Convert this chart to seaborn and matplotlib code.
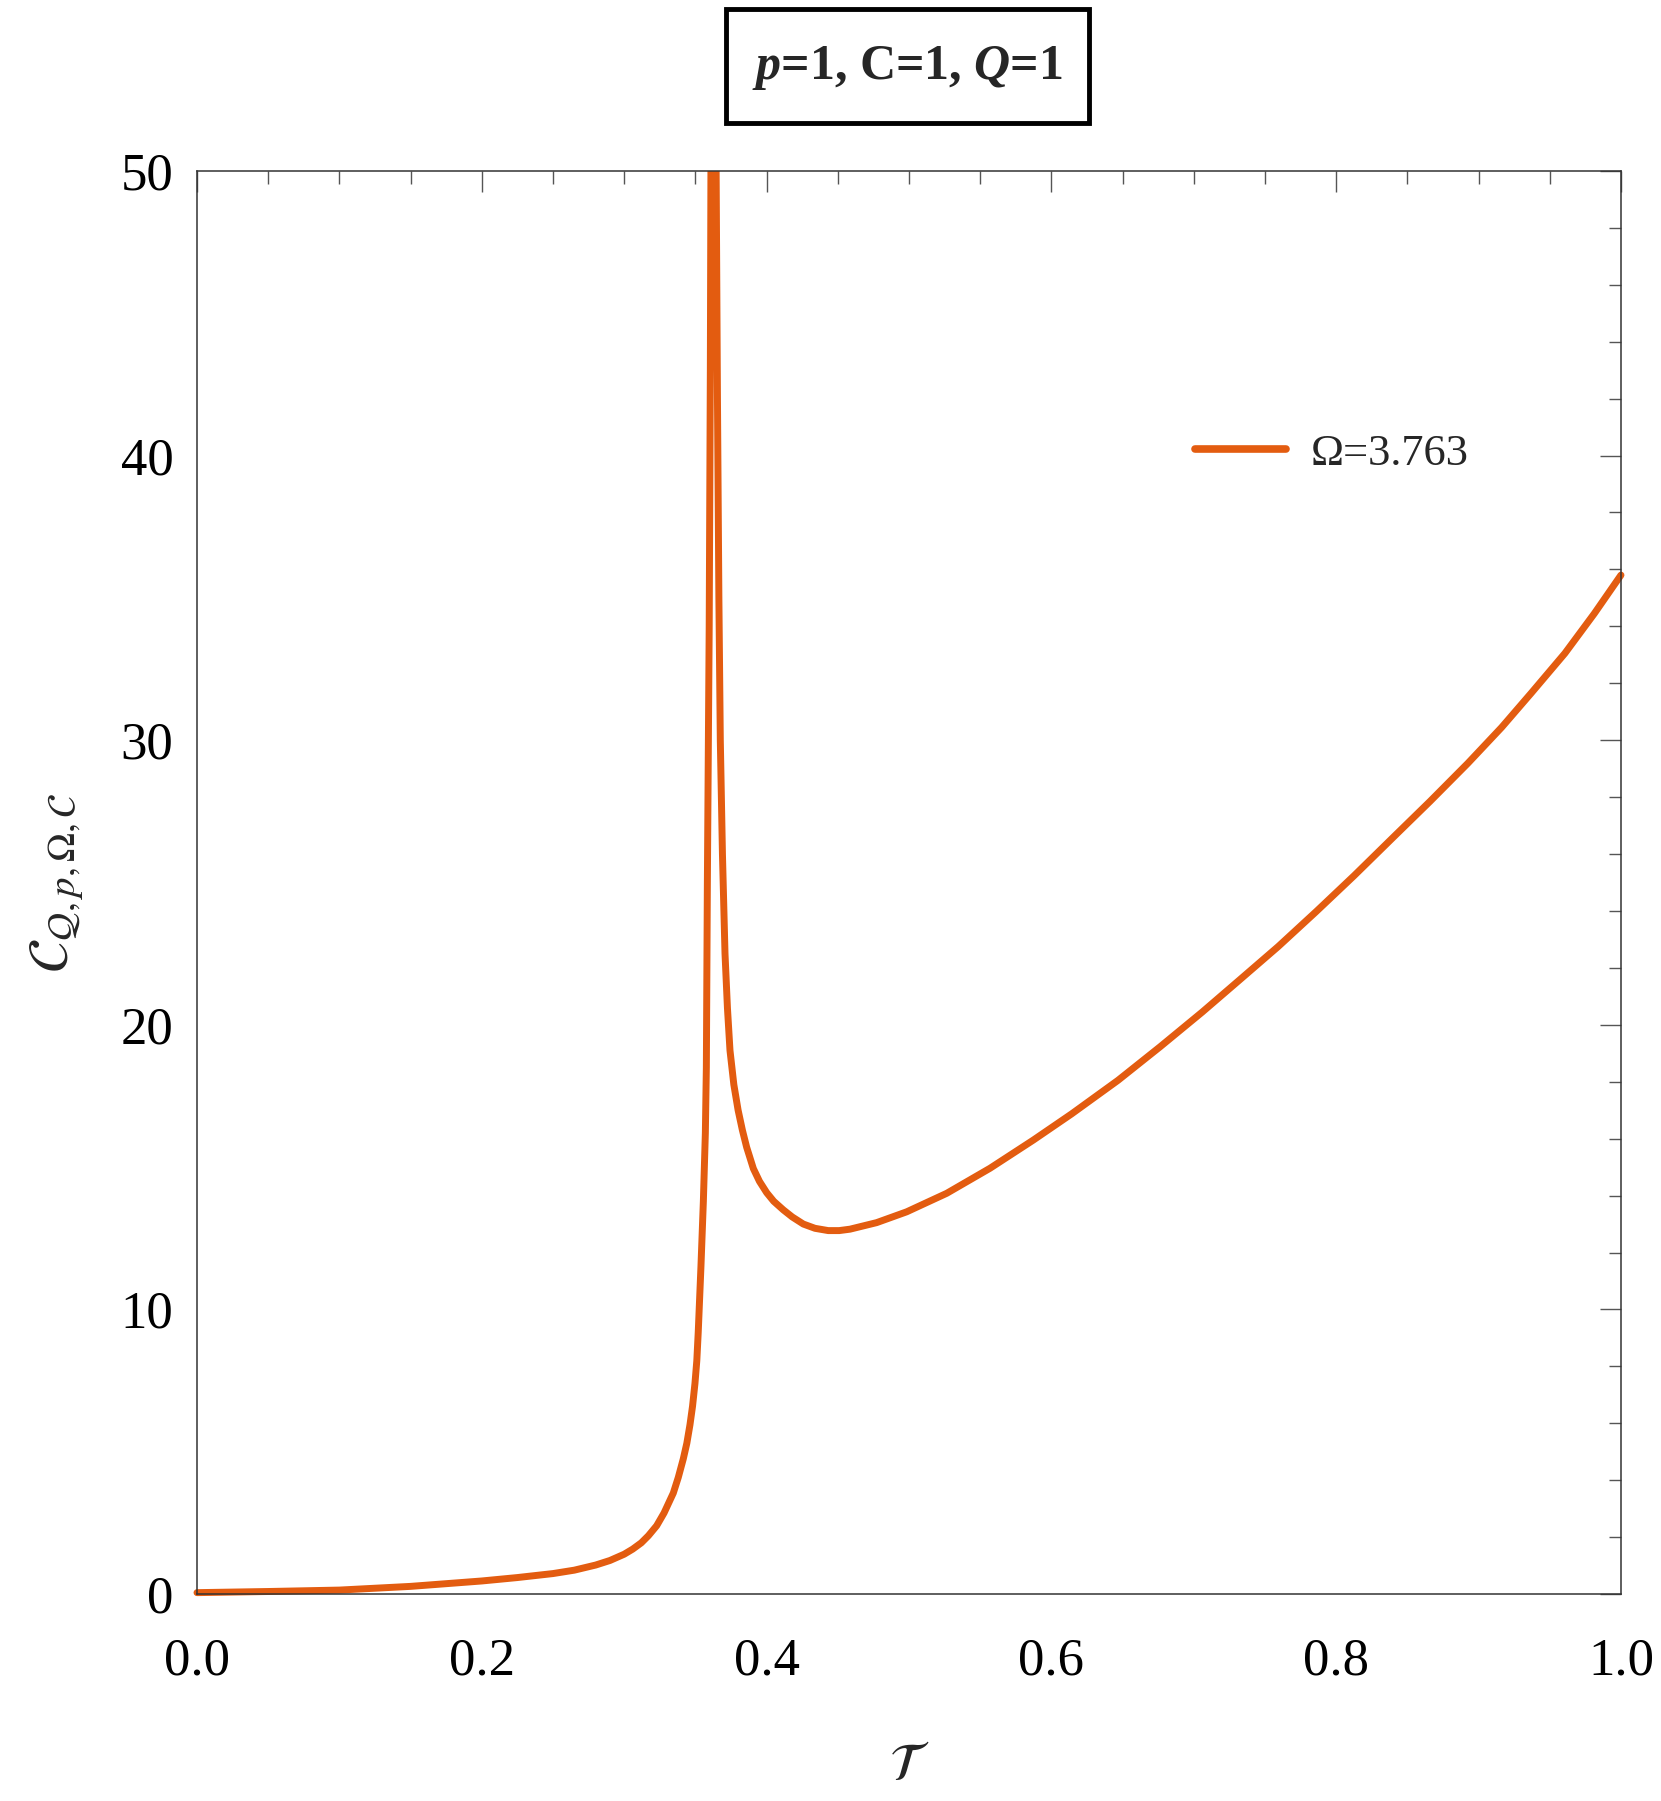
import matplotlib
matplotlib.use("Agg")
import matplotlib.pyplot as plt
import pandas as pd
import seaborn as sns
from matplotlib.patches import Rectangle
from matplotlib.ticker import MultipleLocator

# values (temperature vs heat capacity)
tau = [0.000, 0.050, 0.100, 0.150, 0.200, 0.225, 0.250, 0.265, 0.280, 0.290,
       0.300, 0.306, 0.312, 0.317, 0.3228, 0.328, 0.3345, 0.338, 0.3415, 0.344,
       0.3462, 0.348, 0.3497, 0.3510, 0.3520, 0.3539, 0.3556, 0.3570, 0.3577,
       0.3584, 0.3597, 0.3605, 0.3612,
       0.3640, 0.3655, 0.3665, 0.3675, 0.3690, 0.3708, 0.3725, 0.3743, 0.3770,
       0.3800, 0.3830, 0.3860, 0.3907, 0.3950, 0.4001, 0.4050, 0.4117, 0.4180,
       0.4258, 0.4340, 0.4433, 0.4510, 0.4586, 0.4773, 0.4984, 0.5265,
       0.5569, 0.5873, 0.6142, 0.6468, 0.6764, 0.7060, 0.7327, 0.7593, 0.7860,
       0.8126, 0.8393, 0.8659, 0.8925, 0.9162, 0.9369, 0.9606, 0.9813, 1.000]
heat = [0.05, 0.09, 0.14, 0.27, 0.46, 0.58, 0.72, 0.84, 1.02, 1.18,
        1.40, 1.58, 1.80, 2.05, 2.40, 2.85, 3.55, 4.10, 4.75, 5.30,
        5.95, 6.60, 7.40, 8.20, 9.20, 11.5, 13.8, 16.2, 18.5,
        24.9, 34.0, 43.0, 55.0,
        55.0, 42.0, 35.0, 30.0, 26.0, 22.5, 20.6, 19.1, 17.9,
        17.0, 16.3, 15.7, 14.95, 14.5, 14.1, 13.8, 13.5, 13.25,
        13.0, 12.85, 12.77, 12.77, 12.82, 13.05, 13.43, 14.08,
        14.96, 15.95, 16.87, 18.05, 19.23, 20.45, 21.6, 22.75, 23.98,
        25.24, 26.55, 27.85, 29.19, 30.45, 31.65, 33.05, 34.45, 35.8]

series_label = "Ω=3.763"
title_text = r"$\mathbfit{p}$=1, C=1, $\mathbfit{Q}$=1"
x_ticks = [0.0, 0.2, 0.4, 0.6, 0.8, 1.0]
x_tick_labels = ["0.0", "0.2", "0.4", "0.6", "0.8", "1.0"]
y_ticks = [0, 10, 20, 30, 40, 50]
y_tick_labels = ["0", "10", "20", "30", "40", "50"]

sns.set_theme(style="white")
plt.rcParams["font.family"] = ["Liberation Serif", "DejaVu Serif"]
plt.rcParams["mathtext.fontset"] = "stix"
plt.rcParams["mathtext.rm"] = "Liberation Serif"
plt.rcParams["mathtext.it"] = "Liberation Serif:italic"
plt.rcParams["mathtext.bf"] = "Liberation Serif:bold"
plt.rcParams["mathtext.bfit"] = "Liberation Serif:italic:bold"

fig = plt.figure(figsize=(16.61, 18.01), dpi=100)
ax = fig.add_axes([0.1186, 0.1149, 0.8573, 0.7902])

df = pd.DataFrame({"T": tau, "C": heat})
sns.lineplot(data=df, x="T", y="C", sort=False, estimator=None,
             color="#E35C10", linewidth=5.0, label=series_label, ax=ax)
line = ax.lines[0]
line.set_solid_joinstyle("round")
line.set_clip_path(Rectangle((-0.02, -0.02), 1.04, 1.02, transform=ax.transAxes))

ax.set_xlim(0, 1)
ax.set_ylim(0, 50)
ax.set_xticks(x_ticks)
ax.set_xticklabels(x_tick_labels)
ax.set_yticks(y_ticks)
ax.set_yticklabels(y_tick_labels)
ax.xaxis.set_minor_locator(MultipleLocator(0.05))
ax.yaxis.set_minor_locator(MultipleLocator(2))

ax.tick_params(which="both", direction="in", top=True, right=True,
               color="#555555", width=1.0, labelcolor="black")
ax.tick_params(which="major", length=15, labelsize=38)
ax.tick_params(which="minor", length=9)
ax.tick_params(axis="x", which="major", pad=31)
ax.tick_params(axis="y", which="major", pad=17)
for sp in ax.spines.values():
    sp.set_color("#333333")
    sp.set_linewidth(1.1)

ax.set_xlabel(r"$\mathcal{T}$", fontsize=38)
ax.xaxis.set_label_coords(0.5, -0.105)
ax.set_ylabel(r"$\mathcal{C}_{\mathcal{Q},p,\Omega,\mathcal{C}}$", fontsize=40)
ax.yaxis.set_label_coords(-0.078, 0.5)

leg = ax.legend(loc="center left", bbox_to_anchor=(1195 / 1661, 1 - 454 / 1801),
                bbox_transform=fig.transFigure, frameon=False, fontsize=32,
                handlelength=2.05, handletextpad=0.55, borderpad=0, borderaxespad=0)
for h in leg.get_lines():
    h.set_linewidth(5.5)

# boxed title above the plot
fig.patches.append(Rectangle((726 / 1661, 1 - 123 / 1801), 363 / 1661, 114 / 1801,
                             transform=fig.transFigure, fill=False,
                             edgecolor="black", linewidth=3.5))
fig.text(907.5 / 1661, 1 - 68 / 1801, title_text, ha="center", va="center",
         fontsize=36, fontweight="bold", math_fontfamily="custom")

fig.savefig("out.png", dpi=100)
